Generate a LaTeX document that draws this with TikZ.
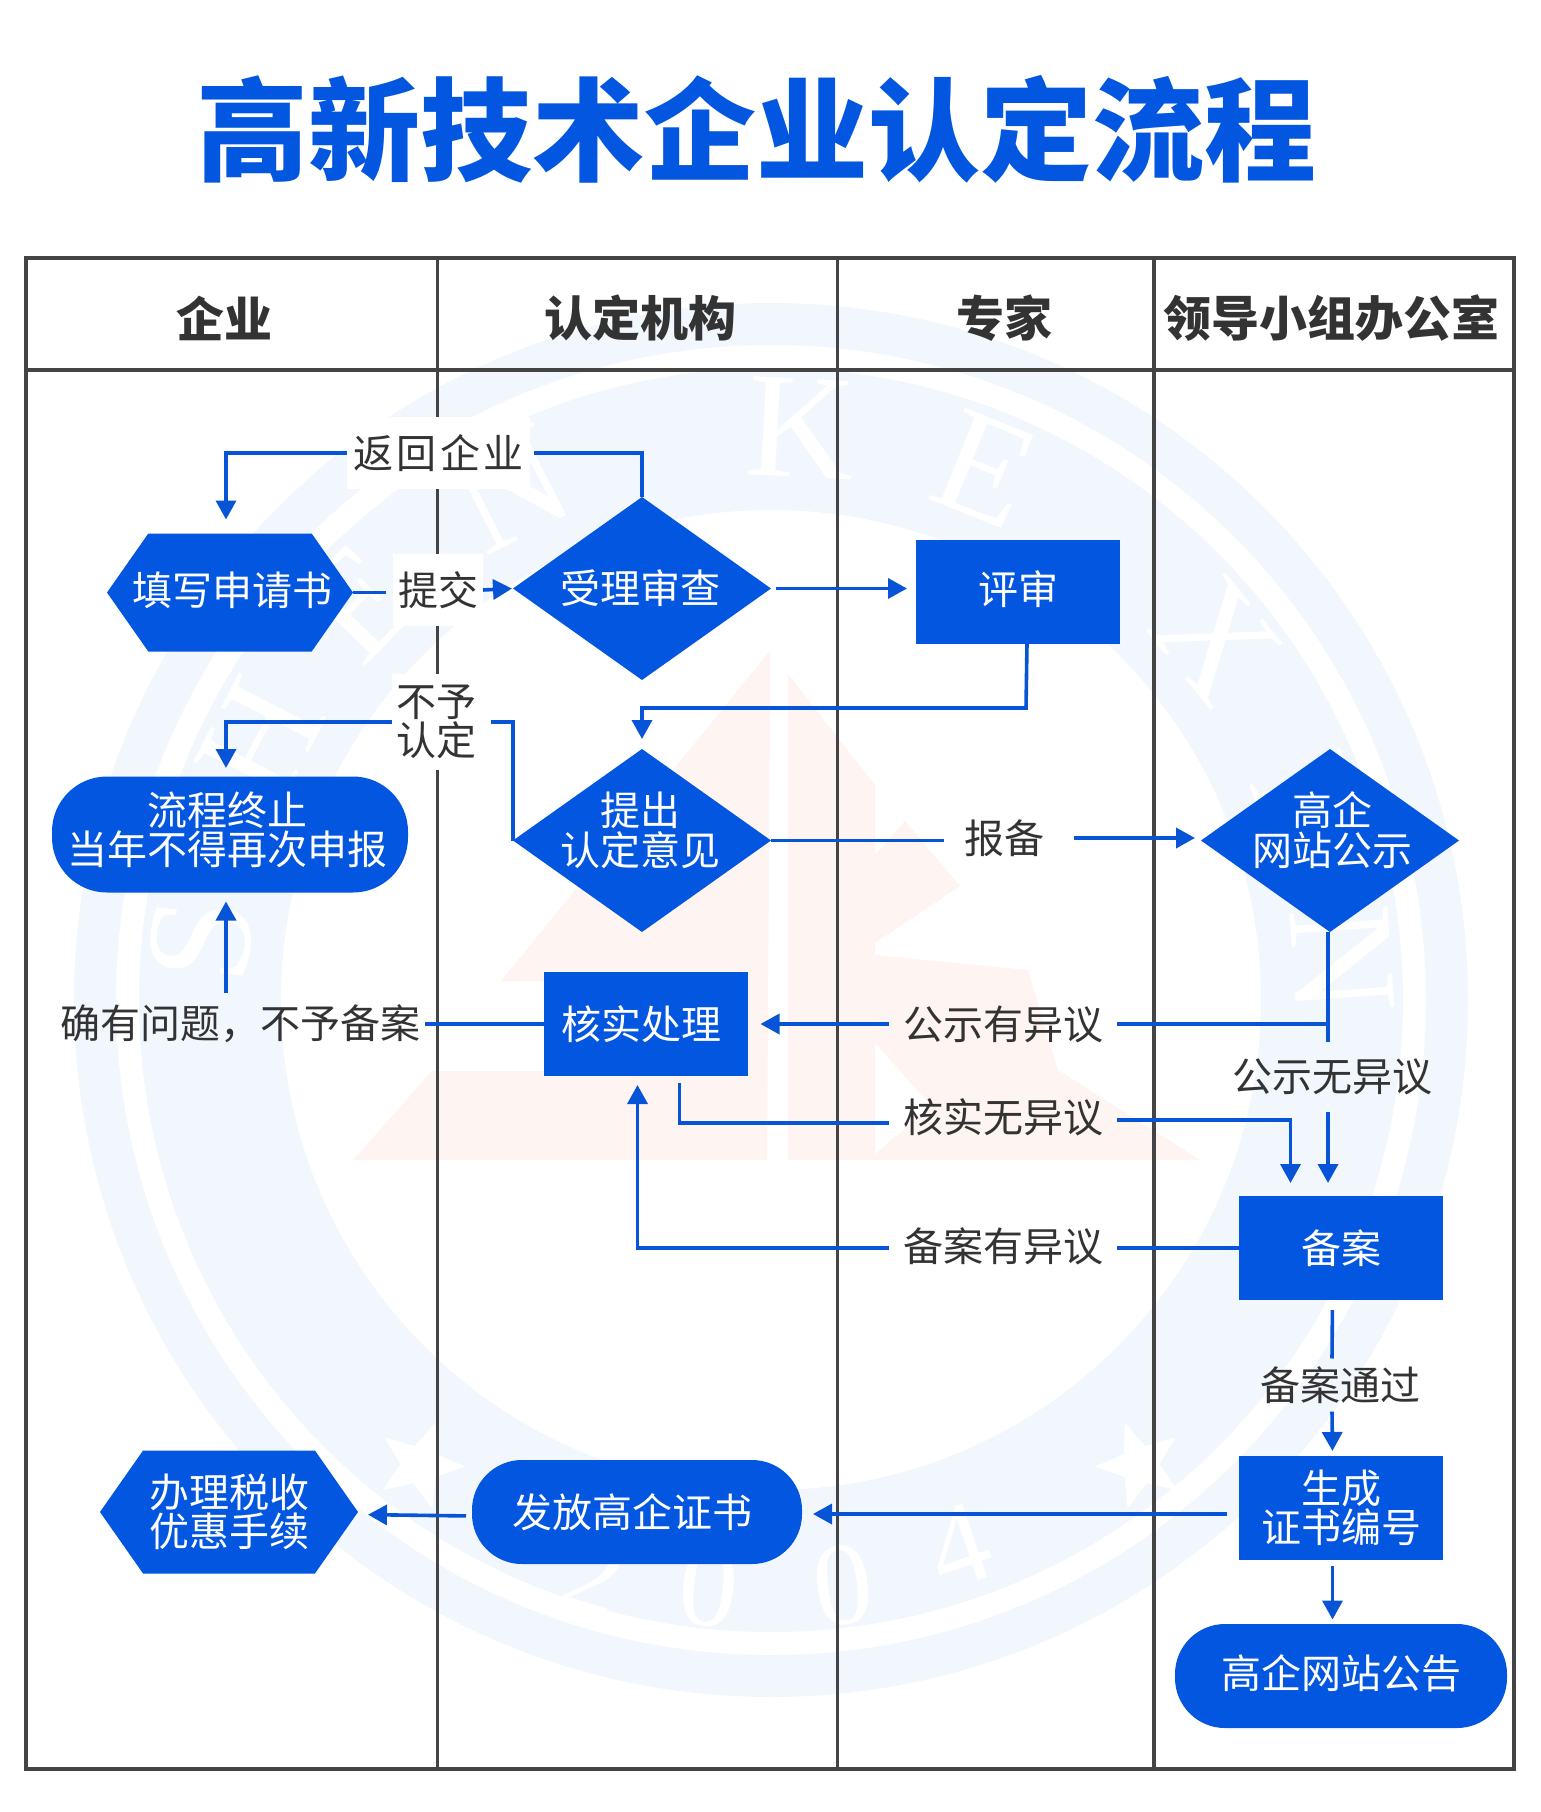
\documentclass[tikz,border=0pt]{standalone}
\usepackage{fontspec}
\setmainfont{Noto Sans CJK SC}
\newfontfamily\wmfont{Liberation Serif}
\usepackage{tikz}
\usetikzlibrary{positioning,arrows.meta,shapes.geometric,shapes.symbols}
\definecolor{flowclr}{RGB}{2,86,224}
\definecolor{lineclr}{RGB}{8,84,214}
\definecolor{txtclr}{RGB}{51,51,51}
\definecolor{frameclr}{RGB}{68,68,68}
\definecolor{ringclr}{RGB}{242,246,253}
\definecolor{pinkclr}{RGB}{254,244,242}
\tikzset{ %
  ,>={Triangle[length=19pt,width=20pt]}
  ,every node/.style={font=\fontsize{40}{39.5}\selectfont, align=center, outer sep=0, inner sep=0}
  ,hexa/.style={shape=signal, signal to=west and east, signal pointer angle=110, inner xsep=-50pt, fill=flowclr, text=white}
  ,diam/.style={shape=diamond, aspect=1.4, inner xsep=-90pt, inner ysep=-40pt, minimum width=258pt, minimum height=183pt, fill=flowclr, text=white}
  ,boxn/.style={rectangle, minimum width=204pt, minimum height=104pt, fill=flowclr, text=white}
  ,pill/.style={rectangle, rounded corners=50pt, minimum height=104pt, fill=flowclr, text=white}
  ,tag/.style={text=txtclr, inner xsep=14pt, inner ysep=17pt}
  ,tagw/.style={tag, fill=white, inner xsep=6pt}
  ,head/.style={text=txtclr, font=\fontsize{48}{48}\selectfont\bfseries}
  ,wmtxt/.style={text=white, font=\fontsize{150}{150}\selectfont\wmfont}
  ,wmstar/.style={star, star points=5, star point ratio=2.3, minimum size=90pt, fill=white}
  ,conn/.style={draw=lineclr, line width=3.6pt}
  ,lane/.style={draw=frameclr, line width=3.6pt}
}
\begin{document}
\begin{tikzpicture}[x=1pt, y=-1pt]
  \useasboundingbox (0,0) rectangle (1540,1812);
  % watermark
  \draw[ringclr, line width=42pt] (771,1000) circle (676);
  \draw[ringclr, line width=142pt] (771,1000) circle (561);
  \fill[pinkclr] (770.5,650) -- (501,981) -- (560,981) -- (560,1071) -- (432,1071) -- (353,1160) -- (767,1160) -- cycle;
  \fill[pinkclr] (788,674) -- (875,785) -- (875,855) -- (905,821) -- (960,886) -- (875,943) -- (875,955)
    -- (1028,970) -- (1058,1070) -- (1200,1160) -- (788,1160) -- cycle;
  \fill[white] (875,1043) -- (875,1154) -- (931,1106) -- cycle;
  \foreach \ch/\ang in {S/-84,H/-63,E/-46,N/-27,K/3,E/22,X/51,I/68,N/86}
    \node[wmtxt, rotate=-\ang] at ({771+573*sin(\ang)},{1000-573*cos(\ang)}) {\ch};
  \foreach \ch/\ang/\rad in {2/-17/600,0/-6/590,0/7/590,4/19/578}
    \node[wmtxt, font=\fontsize{118}{118}\selectfont\wmfont, rotate=\ang] at ({771+\rad*sin(\ang)},{1000+\rad*cos(\ang)}) {\ch};
  \node[wmstar, rotate=-20] (starl) at (420,1465) {};
  \node[wmstar, rotate=20] (starr) at (1140,1465) {};

  % lanes
  \draw[lane, line width=4.4pt] (26,258) rectangle (1514,1769);
  \draw[lane] (26,370) -- (1514,370);
  \foreach \x in {437.5,837.5,1154}
    \draw[lane] (\x,258) -- (\x,1769);

  \node[font=\fontsize{112}{112}\selectfont\bfseries, text=flowclr] (title) at (756,129) {高新技术企业认定流程};
  \draw
  node[head, at={(224,318)}] (hcom) {企业}
  node[head, at={(640,318)}] (hagn) {认定机构}
  node[head, at={(1004,318)}] (hexp) {专家}
  node[head, at={(1331,318)}] (hled) {领导小组办公室};

  \draw
  node[hexa, minimum width=246pt, minimum height=118pt, text depth=7pt, at={(230,592.5)}] (apply) {\hspace*{5pt}填写申请书}
  node[diam, at={(642,588.5)}] (accept) {受理审查\hspace*{4pt}}
  node[boxn, text depth=7pt, right=145pt of accept, yshift=-3pt] (review) {评审}
  node[diam, text depth=24pt, below=69pt of accept] (opin) {提出\hspace*{4pt}\\认定意见\hspace*{4pt}}
  node[pill, minimum width=356pt, minimum height=116pt, rounded corners=55pt, text depth=13pt, at={(230,834.5)}] (halt) {流程终止\hspace*{6pt}\\当年不得再次申报\hspace*{6pt}}
  node[diam, text depth=24pt, right=430pt of opin] (pub) {\hspace*{4pt}高企\\\hspace*{4pt}网站公示}
  node[boxn, below=40pt of opin, xshift=3.5pt] (verify) {核实处理\hspace*{9pt}}
  node[boxn, below=264pt of pub, xshift=11pt] (filing) {备案}
  node[boxn, below=156pt of filing] (cert) {生成\\证书编号}
  node[pill, minimum width=332pt, text depth=10pt, below=64pt of cert] (notice) {高企网站公告}
  node[pill, minimum width=330pt, left=437pt of cert, yshift=-4pt] (issue) {发放高企证书\hspace*{9pt}}
  node[hexa, minimum width=258pt, minimum height=123pt, left=114pt of issue] (tax) {办理税收\\优惠手续};

  \draw
  node[tagw, at={(438.5,453)}] (back) {返\hspace{3.5pt}回\hspace{3.5pt}企\hspace{3.5pt}业}
  node[tagw, inner xsep=5pt, at={(438,590)}] (sub) {提交}
  node[tagw, inner ysep=11pt, inner xsep=5pt, at={(436.5,722)}] (deny) {不予\\认定}
  node[tag, inner xsep=25pt, at={(1004,838)}] (rep) {报备}
  node[tag, inner xsep=5pt, inner ysep=12pt, at={(240,1024)}] (prob) {确有问题，不予备案}
  node[tag, at={(1003,1024)}] (pubno) {公示有异议}
  node[tag, at={(1332,1077)}] (pubok) {公示无异议}
  node[tag, at={(1003,1117)}] (verok) {核实无异议}
  node[tag, at={(1003,1246)}] (fileno) {备案有异议}
  node[tag, inner ysep=8pt, at={(1340,1385)}] (pass) {备案通过};

  \coordinate (pubs) at ([xshift=-2pt]pub.south);
  \draw[conn, shorten >=4pt] (accept.north) |- (back.east);
  \draw[conn, ->, shorten >=14pt] (back.west) -| ([xshift=-4pt]apply.north);
  \draw[conn, shorten >=7pt] (apply.east) -- (apply.east -| sub.west);
  \draw[conn, ->, shorten >=1pt] (sub.east) -- (accept.west);
  \draw[conn, ->, shorten <=5pt, shorten >=9pt] (accept.east) -- (accept.east -| review.west);
  \coordinate (bend) at (1026,708);
  \draw[conn, ->, shorten >=10pt] ([xshift=9pt]review.south) -- (bend) -| (opin.north);
  \draw[conn, shorten >=9pt] (opin.west) |- (deny.east);
  \draw[conn, ->, shorten >=8.5pt] (deny.west) -| ([xshift=-4pt]halt.north);
  \draw[conn, shorten >=-5pt] (opin.east) -- (opin.east -| rep.west);
  \draw[conn, ->, shorten <=5pt, shorten >=6pt] (rep.east) -- (rep.east -| pub.west);
  \draw[conn] (pubs) -- (pubs |- pubok.north);
  \draw[conn] (pubs |- pubno.east) -- (pubno.east);
  \draw[conn, ->, shorten >=13pt] (pubno.west) -- (pubno.west -| verify.east);
  \draw[conn] (prob.east) -- (prob.east -| verify.west);
  \draw[conn, ->, shorten >=9pt] ([xshift=-14pt]prob.north) -- ([xshift=-4pt]halt.south);
  \draw[conn, shorten >=7pt] ([yshift=-6pt]verok.west) -| ([xshift=34pt]verify.south);
  \draw[conn, ->, shorten >=13pt] ([yshift=-3pt]verok.east) -| ([xshift=-50.5pt]filing.north);
  \draw[conn, ->, shorten >=13pt] (pubs |- pubok.south) -- (pubs |- filing.north);
  \draw[conn] (filing.west) -- (filing.west -| fileno.east);
  \draw[conn, ->, shorten >=9pt] ([yshift=-2pt]fileno.west) -| ([xshift=-8pt]verify.south);
  \draw[conn, shorten <=10pt] ([xshift=-8.5pt]filing.south) -- ([xshift=-8pt]pass.north);
  \draw[conn, ->, shorten >=5pt] ([xshift=-8pt]pass.south) -- ([xshift=-8.5pt]cert.north);
  \draw[conn, ->, shorten <=6pt, shorten >=4.5pt] ([xshift=-8.5pt]cert.south) -- ([xshift=-8.5pt]notice.north);
  \draw[conn, ->, shorten <=12pt, shorten >=11pt] ([yshift=-6pt]cert.west) -- ([yshift=-2pt]issue.east);
  \draw[conn, ->, shorten <=6pt, shorten >=10pt] ([yshift=-4pt]issue.west) -- ([yshift=-2.5pt]tax.east);
\end{tikzpicture}
\end{document}
